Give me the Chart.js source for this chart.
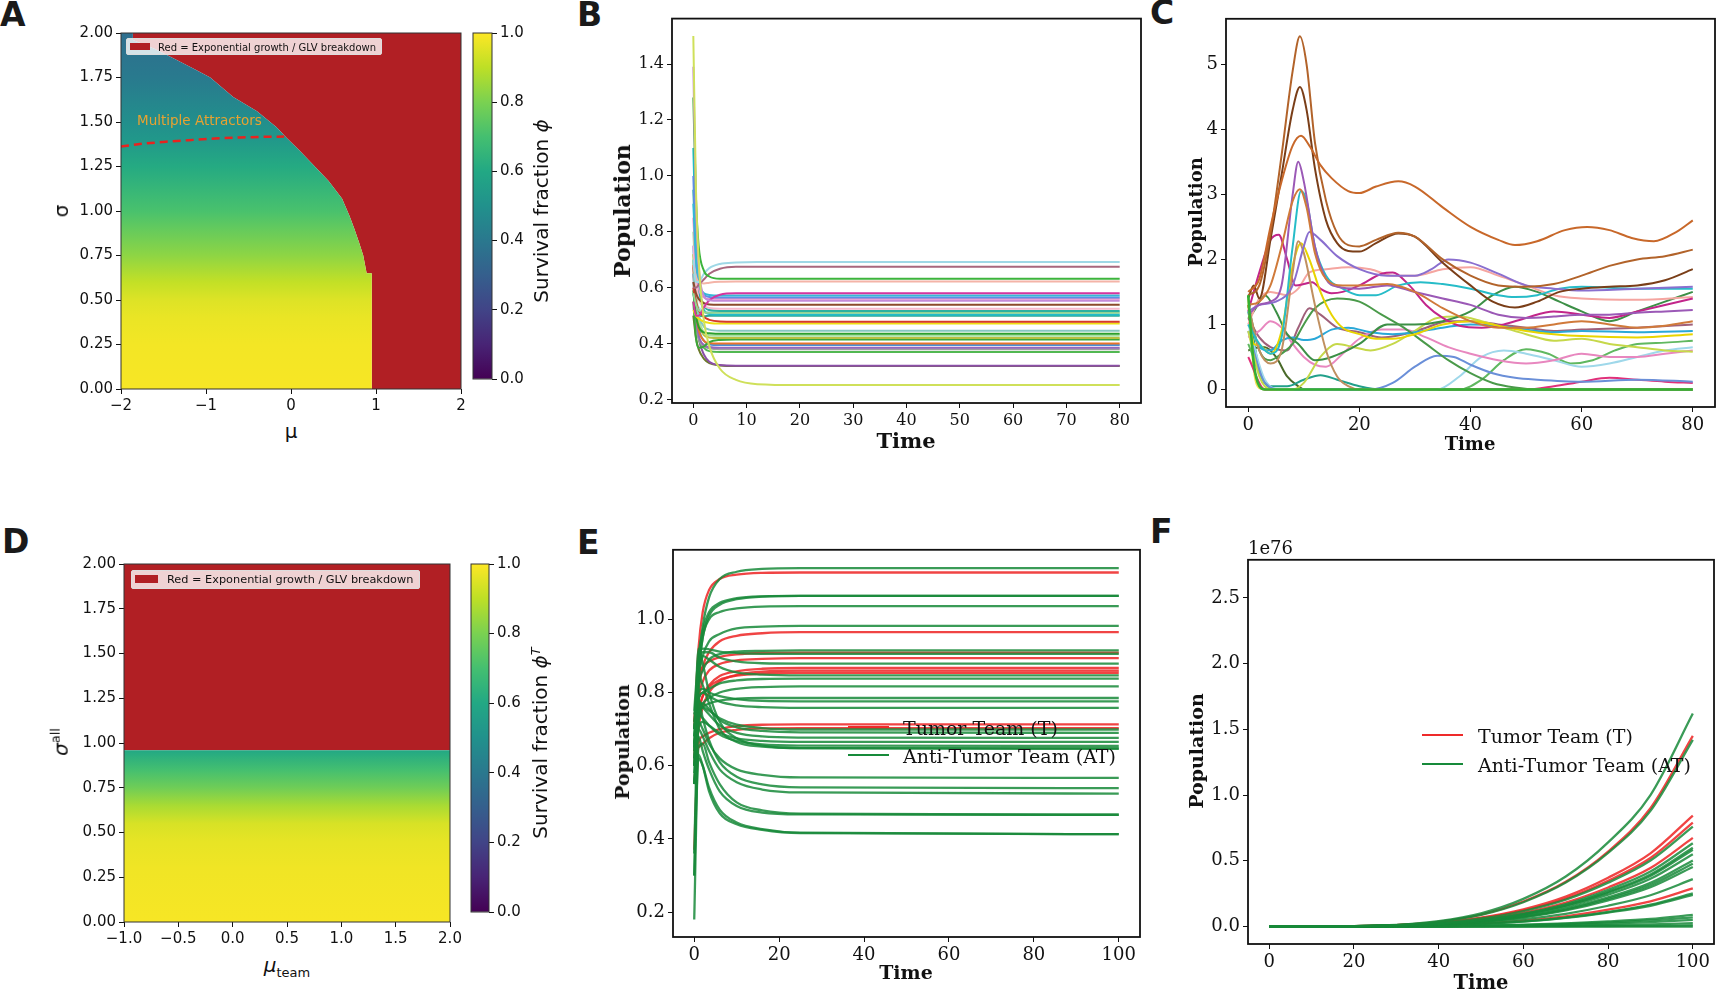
<!DOCTYPE html>
<html>
<head>
<meta charset="utf-8">
<script src="https://cdn.jsdelivr.net/npm/chart.js@4.4.1/dist/chart.umd.min.js"></script>
<style>
  body { margin: 0; background: #fff; width: 1725px; height: 1003px; position: relative; overflow: hidden; }
  canvas { position: absolute; }
  .t { position: absolute; transform: translate(-50%, -50%); white-space: nowrap; color: #111; }
  .r { transform: translate(-50%, -50%) rotate(-90deg); }
  .sans { font-family: "DejaVu Sans"; }
  .serif { font-family: "DejaVu Serif"; }
  .bold { font-weight: bold; }
  .letter { position: absolute; font: bold 33px "DejaVu Sans"; line-height: 1; color: #1a1a1a; }
  .leg { position: absolute; font-family: "DejaVu Serif"; font-size: 19px; color: #111; transform: translateY(-50%); white-space: nowrap; }
  .legline { position: absolute; width: 41px; height: 0; }
</style>
</head>
<body>
<div class="letter" style="left:0px;top:-2px">A</div>
<div class="letter" style="left:577px;top:-2px">B</div>
<div class="letter" style="left:1150px;top:-4px">C</div>
<div class="letter" style="left:2px;top:525px">D</div>
<div class="letter" style="left:577px;top:526px">E</div>
<div class="letter" style="left:1150px;top:515px">F</div>

<canvas id="cA"></canvas>
<canvas id="cAbar"></canvas>
<canvas id="cB"></canvas>
<canvas id="cC"></canvas>
<canvas id="cD"></canvas>
<canvas id="cDbar"></canvas>
<canvas id="cE"></canvas>
<canvas id="cF"></canvas>

<!-- axis titles -->
<div class="t r sans" style="left:61px;top:211px;font-size:20px">σ</div>
<div class="t sans" style="left:291px;top:431px;font-size:20px">μ</div>
<div class="t r sans" style="left:541px;top:211px;font-size:20px">Survival fraction <i>ϕ</i></div>
<div class="t sans" style="left:137px;top:120px;transform:translateY(-50%);font-size:13.5px;color:#e9a230">Multiple Attractors</div>
<div style="position:absolute;left:126px;top:38px;width:256px;height:17px;background:rgba(255,255,255,0.8);border:1px solid #ddd;border-radius:2px;box-sizing:border-box"></div>
<div style="position:absolute;left:130px;top:43px;width:20px;height:7px;background:#b11f24"></div>
<div class="t sans" style="left:158px;top:46.5px;transform:translateY(-50%);font-size:10px">Red = Exponential growth / GLV breakdown</div>

<div class="t r sans" style="left:60px;top:742px;font-size:20px"><i>σ</i><sup style="font-size:13px">all</sup></div>
<div class="t sans" style="left:287px;top:966px;font-size:20px"><i>μ</i><sub style="font-size:13px">team</sub></div>
<div class="t r sans" style="left:540px;top:743px;font-size:20px">Survival fraction <i>ϕ</i><sup style="font-size:13px"><i>T</i></sup></div>
<div style="position:absolute;left:131px;top:570px;width:289px;height:19px;background:rgba(255,255,255,0.8);border:1px solid #ddd;border-radius:2px;box-sizing:border-box"></div>
<div style="position:absolute;left:135px;top:575px;width:23px;height:8px;background:#b11f24"></div>
<div class="t sans" style="left:167px;top:579px;transform:translateY(-50%);font-size:11.3px">Red = Exponential growth / GLV breakdown</div>

<div class="t r serif bold" style="left:622px;top:211px;font-size:22px">Population</div>
<div class="t serif bold" style="left:906px;top:440px;font-size:21px">Time</div>
<div class="t r serif bold" style="left:1195px;top:212px;font-size:18px">Population</div>
<div class="t serif bold" style="left:1470px;top:443px;font-size:18px">Time</div>
<div class="t r serif bold" style="left:622px;top:742px;font-size:19px">Population</div>
<div class="t serif bold" style="left:906px;top:972px;font-size:19px">Time</div>
<div class="t r serif bold" style="left:1196px;top:751px;font-size:19px">Population</div>
<div class="t serif bold" style="left:1481px;top:982px;font-size:19.5px">Time</div>
<div class="t serif" style="left:1248px;top:547px;transform:translateY(-50%);font-size:18px">1e76</div>

<!-- legends E and F -->
<div class="legline" style="left:848px;top:726px;border-top:2.5px solid #ee2a2a"></div>
<div class="leg" style="left:903px;top:728px">Tumor Team (T)</div>
<div class="legline" style="left:848px;top:754px;border-top:2.5px solid #178a3a"></div>
<div class="leg" style="left:903px;top:756px">Anti-Tumor Team (AT)</div>
<div class="legline" style="left:1422px;top:734px;border-top:2.5px solid #ee2a2a"></div>
<div class="leg" style="left:1478px;top:736px">Tumor Team (T)</div>
<div class="legline" style="left:1422px;top:763px;border-top:2.5px solid #178a3a"></div>
<div class="leg" style="left:1478px;top:765px">Anti-Tumor Team (AT)</div>

<script>
// ---- panel A: phase diagram (mu, sigma) ----
const A_X_TICKS = [-2, -1, 0, 1, 2];
const A_Y_TICKS = [0, 0.25, 0.5, 0.75, 1, 1.25, 1.5, 1.75, 2];
const A_EDGE_MU = [-2.0, -1.86, -1.86, -1.6, -1.35, -1.15, -0.95, -0.68, -0.40, -0.17, -0.05, 0.10, 0.28, 0.44, 0.60, 0.69, 0.745, 0.80, 0.85, 0.89, 0.95, 0.95, 2.0];
const A_EDGE_SIGMA = [2.0, 2.0, 1.96, 1.91, 1.85, 1.80, 1.75, 1.64, 1.56, 1.47, 1.41, 1.34, 1.25, 1.17, 1.07, 0.97, 0.90, 0.825, 0.75, 0.65, 0.65, 0.0, 0.0];
const A_DASH_MU = [-2.0, -1.8, -1.5, -1.2, -0.9, -0.6, -0.3, -0.08];
const A_DASH_SIGMA = [1.362, 1.375, 1.388, 1.398, 1.407, 1.413, 1.417, 1.418];
const A_SIGMA = [0, 0.25, 0.4, 0.5, 0.6, 0.75, 0.9, 1.0, 1.1, 1.25, 1.4, 1.5, 1.75, 2.0];
const A_PHI = [0.99, 0.985, 0.97, 0.95, 0.91, 0.83, 0.76, 0.71, 0.67, 0.61, 0.53, 0.49, 0.41, 0.36];

// ---- panel D: team phase diagram ----
const D_X_TICKS = [-1, -0.5, 0, 0.5, 1, 1.5, 2];
const D_EDGE_MU = [-1, 2];
const D_EDGE_SIGMA = [0.96, 0.96];
const D_SIGMA = [0, 0.3, 0.45, 0.55, 0.65, 0.75, 0.85, 0.96, 2.0];
const D_PHI = [0.99, 0.98, 0.965, 0.94, 0.87, 0.78, 0.70, 0.60, 0.60];
const CBAR_TICKS = [0, 0.2, 0.4, 0.6, 0.8, 1.0];

// ---- panel B: converging populations ----
const B_X_TICKS = [0, 10, 20, 30, 40, 50, 60, 70, 80];
const B_Y_TICKS = [0.2, 0.4, 0.6, 0.8, 1.0, 1.2, 1.4];
const B_TIME = [0, 0.5, 1, 2, 3, 5, 8, 12, 20, 80];
const B_VALUES = [
  [1.50, 0.95, 0.70, 0.48, 0.39, 0.31, 0.27, 0.255, 0.252, 0.252],
  [1.39, 0.90, 0.68, 0.57, 0.555, 0.553, 0.553, 0.553, 0.553, 0.553],
  [1.28, 0.92, 0.75, 0.66, 0.64, 0.632, 0.632, 0.632, 0.632, 0.632],
  [0.70, 0.62, 0.62, 0.65, 0.67, 0.685, 0.69, 0.692, 0.692, 0.692],
  [0.60, 0.60, 0.61, 0.63, 0.65, 0.668, 0.675, 0.675, 0.675, 0.675],
  [0.68, 0.64, 0.62, 0.615, 0.618, 0.621, 0.622, 0.622, 0.622, 0.622],
  [0.55, 0.50, 0.50, 0.53, 0.555, 0.575, 0.58, 0.58, 0.58, 0.58],
  [0.90, 0.70, 0.62, 0.58, 0.574, 0.572, 0.572, 0.572, 0.572, 0.572],
  [1.00, 0.72, 0.62, 0.575, 0.567, 0.565, 0.565, 0.565, 0.565, 0.565],
  [0.85, 0.68, 0.60, 0.565, 0.56, 0.56, 0.56, 0.56, 0.56, 0.56],
  [0.62, 0.58, 0.56, 0.545, 0.54, 0.539, 0.539, 0.539, 0.539, 0.539],
  [0.75, 0.62, 0.56, 0.535, 0.527, 0.525, 0.525, 0.525, 0.525, 0.525],
  [0.95, 0.70, 0.60, 0.535, 0.52, 0.517, 0.517, 0.517, 0.517, 0.517],
  [0.58, 0.54, 0.52, 0.512, 0.51, 0.51, 0.51, 0.51, 0.51, 0.51],
  [1.10, 0.75, 0.60, 0.52, 0.506, 0.503, 0.503, 0.503, 0.503, 0.503],
  [0.60, 0.55, 0.52, 0.495, 0.485, 0.479, 0.478, 0.478, 0.478, 0.478],
  [0.52, 0.50, 0.49, 0.478, 0.474, 0.472, 0.472, 0.472, 0.472, 0.472],
  [0.65, 0.55, 0.50, 0.46, 0.45, 0.446, 0.446, 0.446, 0.446, 0.446],
  [0.59, 0.50, 0.46, 0.44, 0.437, 0.435, 0.435, 0.435, 0.435, 0.435],
  [0.80, 0.60, 0.50, 0.44, 0.43, 0.428, 0.428, 0.428, 0.428, 0.428],
  [0.72, 0.56, 0.48, 0.43, 0.422, 0.42, 0.42, 0.42, 0.42, 0.42],
  [0.55, 0.42, 0.385, 0.39, 0.405, 0.413, 0.415, 0.415, 0.415, 0.415],
  [0.68, 0.52, 0.45, 0.41, 0.402, 0.40, 0.40, 0.40, 0.40, 0.40],
  [0.75, 0.55, 0.46, 0.41, 0.398, 0.395, 0.395, 0.395, 0.395, 0.395],
  [0.68, 0.50, 0.43, 0.395, 0.388, 0.385, 0.385, 0.385, 0.385, 0.385],
  [0.62, 0.48, 0.42, 0.39, 0.383, 0.38, 0.38, 0.38, 0.38, 0.38],
  [0.70, 0.50, 0.42, 0.385, 0.373, 0.37, 0.37, 0.37, 0.37, 0.37],
  [0.65, 0.50, 0.42, 0.36, 0.335, 0.323, 0.321, 0.321, 0.321, 0.321],
  [0.50, 0.42, 0.38, 0.345, 0.33, 0.322, 0.32, 0.32, 0.32, 0.32],
  [0.62, 0.55, 0.53, 0.515, 0.512, 0.51, 0.51, 0.51, 0.51, 0.51],
  [0.58, 0.52, 0.50, 0.498, 0.50, 0.50, 0.50, 0.50, 0.50, 0.50],
];
const B_COLORS = ['#cfe05a', '#c48ad8', '#3cb43c', '#9fd8e6', '#a8677e', '#f4b4a8', '#d4359e', '#35b8d6',
  '#5c8fe6', '#ee90c8', '#8b4a2b', '#f5b8cc', '#2ab0a0', '#92d492', '#20bcc8', '#d63a2a', '#f0e010',
  '#86c8c0', '#2ca02c', '#a8e0a0', '#b8c040', '#3aa83a', '#e8742a', '#4a90d9', '#9467bd', '#a0a0a0',
  '#52b852', '#8c4fa8', '#6b7a2a', '#aee0f0', '#30a890'];

// ---- panel C: chaotic populations, [time, value] pairs ----
const C_X_TICKS = [0, 20, 40, 60, 80];
const C_Y_TICKS = [0, 1, 2, 3, 4, 5];
const C_LINES = [
  [[0, 1.45], [1, 0.4], [2, 0.05], [3, 0], [80, 0]],
  [[0, 1.5], [2, 1.7], [4, 2.5], [6, 3.2], [8, 3.75], [9.5, 3.9], [11, 3.75], [13, 3.45], [15, 3.25], [18, 3.05], [20, 3.02], [23, 3.12], [27, 3.2], [30, 3.12], [35, 2.8], [40, 2.5], [45, 2.3], [48, 2.22], [52, 2.28], [57, 2.45], [61, 2.5], [65, 2.45], [69, 2.33], [73, 2.28], [77, 2.42], [80, 2.6]],
  [[0, 1.45], [2, 1.6], [4, 2.4], [6, 3.6], [8, 4.9], [9.3, 5.43], [10.5, 5.0], [12, 3.8], [14, 2.9], [16, 2.4], [18, 2.22], [20, 2.2], [23, 2.3], [27, 2.41], [30, 2.35], [35, 2.0], [40, 1.75], [45, 1.6], [50, 1.58], [55, 1.62], [60, 1.75], [65, 1.9], [70, 2.0], [75, 2.05], [80, 2.15]],
  [[0, 1.4], [1, 1.6], [2, 1.4], [4, 2.3], [6, 3.3], [8, 4.3], [9.3, 4.65], [10.5, 4.3], [12, 3.4], [14, 2.6], [16, 2.25], [18, 2.13], [20, 2.12], [23, 2.25], [27, 2.4], [30, 2.35], [35, 1.95], [40, 1.6], [44, 1.35], [48, 1.26], [52, 1.35], [56, 1.5], [60, 1.55], [65, 1.58], [70, 1.6], [75, 1.68], [80, 1.85]],
  [[0, 1.3], [2, 1.35], [4, 1.6], [6, 2.2], [8, 2.9], [9.3, 3.08], [10.5, 2.8], [12, 2.1], [14, 1.7], [17, 1.6], [20, 1.6], [25, 1.62], [30, 1.5], [35, 1.25], [40, 1.05], [45, 0.95], [50, 0.95], [55, 1.0], [60, 1.05], [65, 1.0], [70, 0.95], [75, 0.98], [80, 1.05]],
  [[0, 1.15], [2, 1.3], [4, 1.35], [6, 1.6], [8, 3.0], [9, 3.5], [10, 3.2], [12, 2.2], [14, 1.7], [16, 1.58], [20, 1.55], [25, 1.6], [30, 1.5], [35, 1.4], [40, 1.3], [45, 1.15], [50, 1.1], [55, 1.12], [60, 1.15], [65, 1.15], [70, 1.18], [75, 1.2], [80, 1.22]],
  [[0, 1.2], [2, 1.3], [5, 1.35], [8, 1.6], [10, 2.2], [11, 2.42], [13, 2.3], [16, 2.05], [20, 1.85], [25, 1.75], [30, 1.75], [33, 1.85], [36, 2.0], [40, 1.95], [45, 1.78], [50, 1.6], [55, 1.55], [60, 1.52], [70, 1.55], [80, 1.58]],
  [[0, 1.0], [2, 0.7], [4, 0.55], [6, 0.8], [8, 2.2], [9.5, 3.05], [10.5, 2.9], [12, 2.2], [14, 1.75], [17, 1.55], [20, 1.45], [23, 1.45], [27, 1.6], [31, 1.65], [35, 1.62], [40, 1.55], [45, 1.45], [48, 1.42], [52, 1.45], [56, 1.55], [60, 1.58], [70, 1.55], [80, 1.55]],
  [[0, 1.3], [2, 0.6], [4, 0.4], [6, 0.6], [8, 1.8], [9, 2.28], [10, 2.1], [12, 1.3], [14, 0.6], [16, 0.2], [18, 0.05], [20, 0], [80, 0]],
  [[0, 1.3], [1, 0.7], [2, 0.68], [4, 0.55], [6, 0.9], [8, 1.9], [9.5, 2.25], [11, 2.0], [13, 1.5], [15, 1.15], [17, 0.95], [20, 0.85], [23, 0.78], [26, 0.78], [30, 0.85], [35, 1.0], [40, 1.05], [45, 0.98], [50, 0.9], [55, 0.85], [60, 0.82], [70, 0.8], [80, 0.85]],
  [[0, 1.2], [2, 1.8], [4, 2.3], [5.5, 2.38], [7, 2.0], [8.5, 1.6], [10, 1.62], [11.5, 1.65], [13, 1.55], [15, 1.48], [17, 1.5], [20, 1.6], [24, 1.78], [26, 1.8], [29, 1.6], [32, 1.3], [35, 1.1], [38, 0.98], [42, 0.95], [46, 1.0], [50, 1.1], [55, 1.2], [60, 1.15], [65, 1.1], [70, 1.2], [75, 1.3], [80, 1.4]],
  [[0, 1.0], [2, 1.4], [4, 1.5], [7, 1.45], [9, 1.55], [11, 1.8], [14, 1.85], [18, 1.88], [22, 1.85], [26, 1.75], [30, 1.75], [35, 1.85], [40, 1.88], [45, 1.75], [50, 1.6], [55, 1.45], [60, 1.4], [70, 1.38], [80, 1.42]],
  [[0, 1.3], [2, 0.6], [4, 0.45], [6, 0.55], [8, 0.7], [10, 1.0], [12, 1.25], [16, 1.4], [20, 1.35], [24, 1.15], [28, 0.95], [32, 0.7], [36, 0.45], [40, 0.25], [44, 0.1], [48, 0.03], [52, 0], [80, 0]],
  [[0, 1.1], [1, 1.2], [3, 1.45], [5, 1.2], [7, 0.85], [9, 0.7], [12, 0.45], [15, 0.5], [20, 0.7], [25, 1.0], [30, 1.0], [35, 1.05], [40, 1.2], [44, 1.45], [48, 1.58], [52, 1.5], [56, 1.35], [60, 1.2], [65, 1.05], [70, 1.2], [75, 1.35], [80, 1.5]],
  [[0, 1.2], [2, 0.65], [4, 0.6], [6, 0.75], [8, 0.8], [10, 0.76], [12, 0.78], [15, 0.92], [18, 0.95], [22, 0.88], [26, 0.85], [30, 0.88], [35, 0.95], [40, 1.0], [45, 0.98], [50, 0.92], [55, 0.88], [60, 0.9], [70, 0.88], [80, 0.9]],
  [[0, 0.9], [2, 0.2], [4, 0], [8, 0], [10, 0.1], [13, 0.5], [16, 0.7], [19, 0.65], [22, 0.6], [26, 0.7], [30, 0.9], [34, 1.1], [38, 1.12], [42, 1.05], [46, 0.95], [50, 0.85], [55, 0.75], [60, 0.78], [65, 0.7], [70, 0.65], [75, 0.6], [80, 0.58]],
  [[0, 0.8], [2, 0.9], [4, 1.05], [6, 0.95], [8, 0.7], [10, 0.5], [12, 0.38], [14, 0.35], [17, 0.55], [20, 0.78], [24, 0.92], [28, 0.92], [32, 0.8], [36, 0.65], [40, 0.55], [45, 0.45], [50, 0.4], [55, 0.45], [60, 0.55], [65, 0.5], [70, 0.5], [75, 0.55], [80, 0.6]],
  [[0, 1.1], [2, 0.8], [4, 0.65], [7, 0.6], [9, 0.95], [11, 1.25], [13, 1.15], [16, 0.95], [20, 0.88], [24, 0.8], [28, 0.85], [32, 0.95], [36, 1.05], [40, 1.05], [45, 1.0], [50, 0.95], [55, 0.9], [60, 0.92], [70, 0.95], [80, 1.0]],
  [[0, 0.9], [3, 0.1], [6, 0], [22, 0], [26, 0.1], [30, 0.35], [34, 0.52], [37, 0.5], [40, 0.38], [44, 0.25], [48, 0.18], [52, 0.15], [60, 0.12], [70, 0.15], [80, 0.12]],
  [[0, 1.0], [3, 0.15], [6, 0], [34, 0], [38, 0.2], [42, 0.5], [46, 0.6], [50, 0.55], [55, 0.45], [60, 0.35], [65, 0.4], [70, 0.5], [75, 0.6], [80, 0.65]],
  [[0, 1.3], [2, 0.3], [4, 0.05], [7, 0.05], [10, 0.15], [13, 0.22], [16, 0.15], [20, 0.05], [24, 0], [80, 0]],
  [[0, 0.7], [3, 0.1], [6, 0], [38, 0], [42, 0.15], [46, 0.45], [50, 0.62], [54, 0.55], [58, 0.4], [62, 0.45], [66, 0.6], [70, 0.7], [75, 0.72], [80, 0.75]],
  [[0, 0.5], [3, 0], [50, 0], [55, 0.05], [60, 0.12], [65, 0.18], [70, 0.15], [75, 0.12], [80, 0.1]],
  [[0, 1.4], [1, 0.3], [2, 0.02], [3, 0], [80, 0]],
  [[0, 1.2], [1.5, 0.5], [3, 0.1], [5, 0], [80, 0]],
  [[0, 0.6], [2, 0.65], [3, 0.65], [5, 0.5], [7, 0.2], [9, 0.05], [10, 0], [80, 0]],
];
const C_COLORS = ['#34b034', '#c8682a', '#b2632a', '#7a3e18', '#d07a3a', '#9b59b6', '#8a6fcf', '#26bcc8',
  '#c09060', '#e8d400', '#c2258a', '#f5a5a0', '#4a9a4a', '#3c8f46', '#2aa8d8', '#c6d84a', '#e887bf',
  '#a0607a', '#6a8fd8', '#9fd8ea', '#22a08a', '#60b860', '#e0307a', '#f0e050', '#7dc87d', '#4a6a2a'];

// ---- panel E: team populations ----
const E_X_TICKS = [0, 20, 40, 60, 80, 100];
const E_Y_TICKS = [0.2, 0.4, 0.6, 0.8, 1.0];
const E_TIME = [0, 1, 2, 3.5, 6, 10, 16, 25, 100];
const E_RED = [
  [0.70, 0.92, 1.02, 1.08, 1.11, 1.122, 1.127, 1.128, 1.128],
  [0.62, 0.80, 0.87, 0.91, 0.94, 0.955, 0.962, 0.965, 0.965],
  [0.72, 0.84, 0.87, 0.885, 0.897, 0.904, 0.908, 0.909, 0.909],
  [0.64, 0.78, 0.83, 0.86, 0.878, 0.888, 0.892, 0.894, 0.894],
  [0.60, 0.74, 0.79, 0.82, 0.845, 0.858, 0.865, 0.867, 0.867],
  [0.55, 0.70, 0.76, 0.80, 0.83, 0.848, 0.857, 0.86, 0.86],
  [0.66, 0.75, 0.79, 0.815, 0.835, 0.846, 0.852, 0.854, 0.854],
  [0.37, 0.66, 0.68, 0.69, 0.70, 0.708, 0.712, 0.713, 0.713],
  [0.64, 0.65, 0.66, 0.675, 0.69, 0.698, 0.702, 0.703, 0.703],
];
const E_GREEN = [
  [0.72, 0.87, 0.98, 1.06, 1.11, 1.13, 1.138, 1.14, 1.14],
  [0.68, 0.85, 0.95, 1.01, 1.04, 1.055, 1.062, 1.064, 1.064],
  [0.75, 0.90, 0.97, 1.02, 1.045, 1.058, 1.063, 1.064, 1.064],
  [0.65, 0.85, 0.95, 1.0, 1.02, 1.03, 1.035, 1.036, 1.036],
  [0.70, 0.84, 0.90, 0.94, 0.96, 0.975, 0.98, 0.982, 0.982],
  [0.36, 0.80, 0.86, 0.89, 0.905, 0.912, 0.914, 0.915, 0.915],
  [0.62, 0.88, 0.92, 0.918, 0.912, 0.908, 0.906, 0.906, 0.906],
  [0.55, 0.85, 0.91, 0.91, 0.895, 0.885, 0.88, 0.879, 0.879],
  [0.60, 0.83, 0.90, 0.89, 0.87, 0.855, 0.849, 0.847, 0.847],
  [0.68, 0.78, 0.80, 0.81, 0.825, 0.833, 0.837, 0.838, 0.838],
  [0.30, 0.72, 0.77, 0.785, 0.80, 0.81, 0.815, 0.817, 0.817],
  [0.65, 0.74, 0.76, 0.77, 0.778, 0.783, 0.785, 0.785, 0.785],
  [0.74, 0.80, 0.81, 0.80, 0.79, 0.782, 0.777, 0.776, 0.776],
  [0.70, 0.78, 0.80, 0.79, 0.775, 0.765, 0.76, 0.758, 0.758],
  [0.62, 0.72, 0.76, 0.75, 0.73, 0.712, 0.703, 0.699, 0.699],
  [0.58, 0.75, 0.77, 0.755, 0.725, 0.705, 0.695, 0.691, 0.690],
  [0.66, 0.78, 0.76, 0.74, 0.71, 0.69, 0.68, 0.677, 0.676],
  [0.55, 0.70, 0.72, 0.71, 0.69, 0.675, 0.668, 0.665, 0.665],
  [0.60, 0.74, 0.73, 0.71, 0.685, 0.668, 0.658, 0.655, 0.654],
  [0.70, 0.85, 0.82, 0.77, 0.70, 0.665, 0.652, 0.648, 0.647],
  [0.64, 0.92, 0.88, 0.80, 0.72, 0.675, 0.655, 0.648, 0.647],
  [0.66, 0.72, 0.70, 0.66, 0.62, 0.59, 0.575, 0.568, 0.567],
  [0.70, 0.78, 0.73, 0.67, 0.61, 0.57, 0.549, 0.541, 0.539],
  [0.60, 0.70, 0.68, 0.64, 0.59, 0.555, 0.535, 0.527, 0.524],
  [0.18, 0.65, 0.66, 0.61, 0.55, 0.50, 0.478, 0.469, 0.466],
  [0.55, 0.68, 0.64, 0.59, 0.53, 0.49, 0.472, 0.467, 0.466],
  [0.55, 0.63, 0.60, 0.53, 0.47, 0.44, 0.425, 0.416, 0.413],
  [0.30, 0.62, 0.60, 0.54, 0.48, 0.445, 0.427, 0.417, 0.413],
];

// ---- panel F: diverging populations (units of 1e76) ----
const F_X_TICKS = [0, 20, 40, 60, 80, 100];
const F_Y_TICKS = [0, 0.5, 1.0, 1.5, 2.0, 2.5];
const F_TIME = [0, 10, 20, 30, 40, 50, 60, 70, 80, 90, 100];
const F_RED = [
  [0, 0, 0.002, 0.011, 0.036, 0.09, 0.19, 0.34, 0.57, 0.90, 1.45],
  [0, 0, 0.003, 0.011, 0.03, 0.068, 0.131, 0.228, 0.371, 0.557, 0.844],
  [0, 0, 0.002, 0.010, 0.028, 0.063, 0.122, 0.213, 0.348, 0.521, 0.79],
  [0, 0, 0.002, 0.009, 0.024, 0.054, 0.104, 0.182, 0.297, 0.445, 0.674],
  [0, 0, 0.001, 0.004, 0.010, 0.023, 0.045, 0.078, 0.128, 0.191, 0.29],
];
const F_GREEN = [
  [0, 0, 0.002, 0.012, 0.041, 0.10, 0.21, 0.38, 0.64, 1.0, 1.62],
  [0, 0, 0.002, 0.011, 0.036, 0.088, 0.185, 0.334, 0.56, 0.88, 1.42],
  [0, 0, 0.002, 0.010, 0.027, 0.061, 0.118, 0.205, 0.334, 0.502, 0.76],
  [0, 0, 0.002, 0.008, 0.022, 0.051, 0.098, 0.171, 0.279, 0.418, 0.634],
  [0, 0, 0.002, 0.008, 0.021, 0.048, 0.093, 0.162, 0.264, 0.396, 0.60],
  [0, 0, 0.002, 0.008, 0.020, 0.047, 0.091, 0.158, 0.257, 0.385, 0.584],
  [0, 0, 0.002, 0.007, 0.019, 0.044, 0.085, 0.149, 0.242, 0.363, 0.55],
  [0, 0, 0.002, 0.007, 0.018, 0.040, 0.078, 0.136, 0.221, 0.332, 0.503],
  [0, 0, 0.001, 0.006, 0.017, 0.038, 0.074, 0.129, 0.210, 0.315, 0.478],
  [0, 0, 0.001, 0.006, 0.016, 0.036, 0.070, 0.122, 0.199, 0.299, 0.453],
  [0, 0, 0.001, 0.005, 0.013, 0.029, 0.056, 0.097, 0.158, 0.238, 0.36],
  [0, 0, 0.001, 0.003, 0.009, 0.020, 0.039, 0.068, 0.111, 0.166, 0.252],
  [0, 0, 0.001, 0.003, 0.008, 0.019, 0.037, 0.065, 0.106, 0.158, 0.24],
  [0, 0, 0, 0.001, 0.003, 0.007, 0.014, 0.024, 0.039, 0.058, 0.088],
  [0, 0, 0, 0.001, 0.002, 0.006, 0.011, 0.019, 0.031, 0.046, 0.07],
  [0, 0, 0, 0.001, 0.002, 0.004, 0.008, 0.014, 0.022, 0.033, 0.05],
  [0, 0, 0, 0, 0.001, 0.002, 0.004, 0.007, 0.011, 0.017, 0.025],
  [0, 0, 0, 0, 0, 0.001, 0.001, 0.002, 0.004, 0.005, 0.008],
  [0, 0, 0, 0, 0, 0, 0, 0, 0, 0, 0],
];

const HEAT_RED = '#b11f24';
const TEAM_RED = 'rgba(238,42,42,0.88)';
const TEAM_GREEN = 'rgba(23,138,58,0.85)';
const VIRIDIS = ['#440154', '#482475', '#414487', '#355f8d', '#2a788e', '#21918c', '#22a884', '#44bf70', '#7ad151', '#bddf26', '#fde725'];

Chart.defaults.font.family = 'DejaVu Sans';
Chart.defaults.color = '#111';

function hexRgb(h) {
  return [1, 3, 5].map((i) => parseInt(h.slice(i, i + 2), 16));
}

function viridis(v) {
  const p = Math.max(0, Math.min(1, v)) * 10;
  const i = Math.min(9, Math.floor(p));
  const f = p - i;
  const a = hexRgb(VIRIDIS[i]);
  const b = hexRgb(VIRIDIS[i + 1]);
  return 'rgb(' + a.map((c, k) => Math.round(c + (b[k] - c) * f)).join(',') + ')';
}

// box around the plot area: [left, top, right, bottom] margins
function place(id, plot, m) {
  const c = document.getElementById(id);
  c.width = plot[2] - plot[0] + m[0] + m[2];
  c.height = plot[3] - plot[1] + m[1] + m[3];
  c.style.left = plot[0] - m[0] + 'px';
  c.style.top = plot[1] - m[1] + 'px';
  return c;
}

const frame = {
  id: 'frame',
  afterDraw(chart, args, opts) {
    const { ctx, chartArea: a } = chart;
    ctx.save();
    ctx.strokeStyle = opts.color || '#111';
    ctx.lineWidth = opts.width || 1.5;
    ctx.strokeRect(a.left, a.top, a.right - a.left, a.bottom - a.top);
    ctx.restore();
  },
};

const minus = (s) => s.replace('-', '\u2212');

function axis(min, max, ticks, fmt, font, fit, extra) {
  return Object.assign({
    type: 'linear',
    min: min,
    max: max,
    afterBuildTicks: (s) => { s.ticks = ticks.map((v) => ({ value: v })); },
    afterFit: fit,
    ticks: { callback: fmt, font: font, color: '#111', padding: 3, maxRotation: 0, autoSkip: false },
    grid: { drawOnChartArea: false, drawTicks: true, tickLength: 5, color: '#111', lineWidth: 1 },
    border: { display: false },
  }, extra || {});
}

function baseOptions(m, frameOpts, scales) {
  return {
    responsive: false,
    animation: false,
    events: [],
    layout: { padding: { left: 0, top: m[1], right: m[2], bottom: 0 } },
    plugins: { legend: { display: false }, tooltip: { enabled: false }, frame: frameOpts },
    elements: { point: { radius: 0 } },
    scales: scales,
  };
}

function gradientFill(chart, sigmas, phis) {
  const y = chart.scales.y;
  if (!chart.chartArea || !y) return HEAT_RED;
  const g = chart.ctx.createLinearGradient(0, y.getPixelForValue(0), 0, y.getPixelForValue(2));
  sigmas.forEach((s, i) => g.addColorStop(s / 2, viridis(phis[i])));
  return g;
}

function heatmap(id, plot, xMin, xMax, xTicks, xFmt, edgeMu, edgeSigma, sigmas, phis, extra) {
  const m = [60, 12, 15, 30];
  const c = place(id, plot, m);
  const pts = () => edgeMu.map((v, i) => ({ x: v, y: edgeSigma[i] }));
  const sansFont = { family: 'DejaVu Sans', size: 15 };
  const datasets = [
    { data: pts(), fill: 'start', borderWidth: 0, borderColor: 'rgba(0,0,0,0)', order: 2,
      backgroundColor: (ctx) => gradientFill(ctx.chart, sigmas, phis) },
    { data: pts(), fill: 'end', borderWidth: 0, borderColor: 'rgba(0,0,0,0)', order: 2, backgroundColor: HEAT_RED },
  ].concat(extra);
  return new Chart(c, {
    type: 'line',
    data: { datasets: datasets },
    options: baseOptions(m, { color: '#333', width: 1 }, {
      x: axis(xMin, xMax, xTicks, xFmt, sansFont, (s) => { s.height = m[3]; }),
      y: axis(0, 2, A_Y_TICKS, (v) => v.toFixed(2), sansFont, (s) => { s.width = m[0]; }),
    }),
    plugins: [frame],
  });
}

function colorbar(id, plot) {
  const m = [2, 12, 44, 2];
  const c = place(id, plot, m);
  return new Chart(c, {
    type: 'bar',
    data: {
      labels: [''],
      datasets: [{
        data: [[0, 1]],
        barPercentage: 1,
        categoryPercentage: 1,
        borderWidth: 0,
        backgroundColor: (ctx) => {
          const y = ctx.chart.scales.y;
          if (!ctx.chart.chartArea || !y) return VIRIDIS[5];
          const g = ctx.chart.ctx.createLinearGradient(0, y.getPixelForValue(0), 0, y.getPixelForValue(1));
          VIRIDIS.forEach((col, i) => g.addColorStop(i / 10, col));
          return g;
        },
      }],
    },
    options: Object.assign(baseOptions(m, { color: '#333', width: 1 }, {
      x: { display: false },
      y: axis(0, 1, CBAR_TICKS, (v) => v.toFixed(1), { family: 'DejaVu Sans', size: 15 },
        (s) => { s.width = m[2]; }, { position: 'right' }),
    }), { layout: { padding: { left: m[0], top: m[1], right: 0, bottom: m[3] } } }),
    plugins: [frame],
  });
}

function lineChart(id, plot, m, x, y, datasets) {
  const c = place(id, plot, m);
  const opts = baseOptions(m, { color: '#111', width: 1.8 }, { x: x, y: y });
  opts.elements.line = { cubicInterpolationMode: 'monotone', borderWidth: 2 };
  return new Chart(c, { type: 'line', data: { datasets: datasets }, options: opts, plugins: [frame] });
}

function series(times, vals, color, width) {
  return { data: vals.map((v, i) => ({ x: times[i], y: v })), borderColor: color, borderWidth: width, fill: false };
}

// A
heatmap('cA', [121, 33, 461, 389], -2, 2, A_X_TICKS, (v) => minus(String(v)),
  A_EDGE_MU, A_EDGE_SIGMA, A_SIGMA, A_PHI,
  [{ data: A_DASH_MU.map((v, i) => ({ x: v, y: A_DASH_SIGMA[i] })), fill: false, borderColor: '#e8231f',
     borderWidth: 2.5, borderDash: [8, 5], cubicInterpolationMode: 'monotone', order: 0 }]);
colorbar('cAbar', [473, 33, 492, 389]);

// D
heatmap('cD', [124, 564, 450, 922], -1, 2, D_X_TICKS, (v) => minus(v.toFixed(1)),
  D_EDGE_MU, D_EDGE_SIGMA, D_SIGMA, D_PHI, []);
colorbar('cDbar', [471, 564, 489, 922]);

// B
const mB = [50, 12, 20, 30];
const serifB = { family: 'DejaVu Serif', size: 16 };
lineChart('cB', [672, 18, 1141, 403], mB,
  axis(-4, 84, B_X_TICKS, (v) => String(v), serifB, (s) => { s.height = mB[3]; }),
  axis(0.1875, 1.5625, B_Y_TICKS, (v) => v.toFixed(1), serifB, (s) => { s.width = mB[0]; }),
  B_VALUES.map((vals, i) => series(B_TIME, vals, B_COLORS[i % B_COLORS.length], 2)));

// C
const mC = [50, 12, 8, 30];
const serifC = { family: 'DejaVu Serif', size: 18 };
lineChart('cC', [1226, 17, 1715, 407], mC,
  axis(-4, 84, C_X_TICKS, (v) => String(v), serifC, (s) => { s.height = mC[3]; }),
  axis(-0.27, 5.70, C_Y_TICKS, (v) => String(v), serifC, (s) => { s.width = mC[0]; }),
  C_LINES.map((pts, i) => ({
    data: pts.map((p) => ({ x: p[0], y: p[1] })),
    borderColor: C_COLORS[i % C_COLORS.length],
    borderWidth: i === 0 ? 2.6 : 2,
    fill: false,
  })));

// E
const mE = [55, 12, 15, 36];
const serifE = { family: 'DejaVu Serif', size: 18 };
lineChart('cE', [673, 548, 1140, 937], mE,
  axis(-5, 105, E_X_TICKS, (v) => String(v), serifE, (s) => { s.height = mE[3]; }),
  axis(0.132, 1.19, E_Y_TICKS, (v) => v.toFixed(1), serifE, (s) => { s.width = mE[0]; }),
  E_GREEN.map((vals) => series(E_TIME, vals, TEAM_GREEN, 2.3))
    .concat(E_RED.map((vals) => series(E_TIME, vals, TEAM_RED, 2.3))));

// F
const mF = [55, 12, 8, 36];
const serifF = { family: 'DejaVu Serif', size: 18 };
lineChart('cF', [1248, 558, 1714, 944], mF,
  axis(-5, 105, F_X_TICKS, (v) => String(v), serifF, (s) => { s.height = mF[3]; }),
  axis(-0.133, 2.79, F_Y_TICKS, (v) => v.toFixed(1), serifF, (s) => { s.width = mF[0]; }),
  F_GREEN.map((vals) => series(F_TIME, vals, TEAM_GREEN, 2.3))
    .concat(F_RED.map((vals) => series(F_TIME, vals, TEAM_RED, 2.3))));
</script>
</body>
</html>
